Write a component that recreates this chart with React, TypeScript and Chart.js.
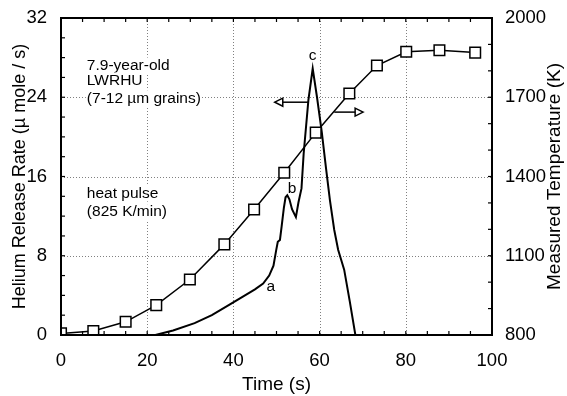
import React, { useEffect, useRef } from "react";
import { Chart, registerables } from "chart.js";

Chart.register(...registerables);

// ---- data ----
const tempTime = [0, 7.5, 15, 22.1, 29.9, 37.9, 44.8, 51.8, 59.1, 66.9, 73.3, 80.1, 87.8, 96.1];
const tempK = [806, 815, 850, 913, 1010, 1143, 1275, 1414, 1566, 1714, 1820, 1872, 1878, 1869];

const heTime = [
  21.9, 26, 31, 35, 39.2, 42.3, 45, 46.9, 48.3, 49.3, 49.9, 50.3, 50.8, 51.2, 51.7, 52.1,
  52.5, 53.0, 53.6, 54.5, 55.1, 55.8, 56.3, 57.4, 58.4, 59.4, 60.5, 61.5, 62.4, 63.4, 64.3,
  65.7, 67.0, 68.3,
];
const heRate = [
  0, 0.45, 1.2, 2.0, 3.1, 3.9, 4.6, 5.2, 6.0, 7.0, 8.5, 9.4, 9.6, 11.0, 12.8, 13.9,
  14.1, 13.7, 12.7, 11.9, 13.4, 14.8, 18.3, 23.7, 26.9, 24.0, 20.5, 16.8, 13.6, 10.6, 8.6,
  6.6, 3.4, 0,
];

const xTickValues = [0, 20, 40, 60, 80, 100];
const leftTickValues = [0, 8, 16, 24, 32];
const rightTickValues = [800, 1100, 1400, 1700, 2000];

const xTitle = "Time (s)";
const leftTitle = "Helium Release Rate (\u00b5 mole / s)";
const rightTitle = "Measured Temperature (K)";

const noteLines = ["7.9-year-old", "LWRHU", "(7-12 \u00b5m grains)", "heat pulse", "(825 K/min)"];
const noteX = [6.0, 6.0, 6.0, 6.0, 6.0];
const noteY = [27.2, 25.7, 23.9, 14.3, 12.4];

const peakNames = ["a", "b", "c"];
const peakX = [48.7, 53.6, 58.4];
const peakY = [4.9, 14.8, 28.2];

const arrowFromX = [57.5, 63.4];
const arrowToX = [49.6, 70.1];
const arrowY = [23.5, 22.5];

const FONT = "'Liberation Sans', Arial, Helvetica, sans-serif";

const decor = {
  id: "decor",
  beforeDatasetsDraw(chart: any) {
    const { ctx, chartArea: a, scales } = chart;
    ctx.save();
    ctx.strokeStyle = "#808080";
    ctx.lineWidth = 1;
    ctx.setLineDash([1, 2]);
    for (const v of xTickValues) {
      if (v === xTickValues[0] || v === xTickValues[xTickValues.length - 1]) continue;
      const px = Math.round(scales.x.getPixelForValue(v)) + 0.5;
      ctx.beginPath();
      ctx.moveTo(px, a.top);
      ctx.lineTo(px, a.bottom);
      ctx.stroke();
    }
    for (const v of leftTickValues) {
      if (v === leftTickValues[0] || v === leftTickValues[leftTickValues.length - 1]) continue;
      const py = Math.round(scales.y.getPixelForValue(v)) + 0.5;
      ctx.beginPath();
      ctx.moveTo(a.left, py);
      ctx.lineTo(a.right, py);
      ctx.stroke();
    }
    ctx.restore();
  },
  afterDatasetsDraw(chart: any) {
    const { ctx, chartArea: a, scales } = chart;
    const xs = scales.x;
    const ys = scales.y;
    const y2 = scales.y2;
    ctx.save();
    ctx.setLineDash([]);
    ctx.strokeStyle = "#000";
    ctx.fillStyle = "#000";

    // inward ticks
    ctx.lineWidth = 1.2;
    const tl = 4;
    for (let v = xs.min; v <= xs.max + 1e-9; v += 5) {
      const px = xs.getPixelForValue(v);
      ctx.beginPath();
      ctx.moveTo(px, a.bottom);
      ctx.lineTo(px, a.bottom - tl);
      ctx.moveTo(px, a.top);
      ctx.lineTo(px, a.top + tl);
      ctx.stroke();
    }
    for (let v = ys.min; v <= ys.max + 1e-9; v += 2) {
      const py = ys.getPixelForValue(v);
      ctx.beginPath();
      ctx.moveTo(a.left, py);
      ctx.lineTo(a.left + tl, py);
      ctx.stroke();
    }
    for (let v = y2.min; v <= y2.max + 1e-9; v += 100) {
      const py = y2.getPixelForValue(v);
      ctx.beginPath();
      ctx.moveTo(a.right, py);
      ctx.lineTo(a.right - tl, py);
      ctx.stroke();
    }

    // frame
    ctx.lineWidth = 2;
    ctx.strokeRect(a.left, a.top, a.right - a.left, a.bottom - a.top);

    // notes with white background
    ctx.font = `15.5px ${FONT}`;
    ctx.textBaseline = "middle";
    ctx.textAlign = "left";
    noteLines.forEach((t, i) => {
      const px = xs.getPixelForValue(noteX[i]);
      const py = ys.getPixelForValue(noteY[i]);
      const w = ctx.measureText(t).width;
      ctx.fillStyle = "#fff";
      ctx.fillRect(px - 1, py - 8, w + 2, 16);
      ctx.fillStyle = "#000";
      ctx.fillText(t, px, py);
    });

    // peak labels
    ctx.textAlign = "center";
    peakNames.forEach((t, i) => {
      ctx.fillText(t, xs.getPixelForValue(peakX[i]), ys.getPixelForValue(peakY[i]));
    });

    // arrows
    ctx.lineWidth = 1.5;
    arrowFromX.forEach((fx, i) => {
      const x0 = xs.getPixelForValue(fx);
      const x1 = xs.getPixelForValue(arrowToX[i]);
      const py = ys.getPixelForValue(arrowY[i]);
      const dir = Math.sign(x1 - x0);
      const hl = 8;
      const hw = 4;
      ctx.beginPath();
      ctx.moveTo(x0, py);
      ctx.lineTo(x1 - dir * hl, py);
      ctx.stroke();
      ctx.beginPath();
      ctx.moveTo(x1, py);
      ctx.lineTo(x1 - dir * hl, py - hw);
      ctx.lineTo(x1 - dir * hl, py + hw);
      ctx.closePath();
      ctx.fillStyle = "#fff";
      ctx.fill();
      ctx.stroke();
    });

    // right axis title (reads bottom to top)
    ctx.fillStyle = "#000";
    ctx.font = `19px ${FONT}`;
    ctx.textAlign = "center";
    ctx.textBaseline = "middle";
    ctx.translate(555, (a.top + a.bottom) / 2);
    ctx.rotate(-Math.PI / 2);
    ctx.fillText(rightTitle, 0, 0);
    ctx.restore();
  },
};

export default function App() {
  const ref = useRef<HTMLCanvasElement | null>(null);

  useEffect(() => {
    if (!ref.current) return;
    const chart = new Chart(ref.current, {
      type: "line",
      data: {
        datasets: [
          {
            label: "Temperature",
            data: tempTime.map((t, i) => ({ x: t, y: tempK[i] })),
            yAxisID: "y2",
            borderColor: "#000",
            borderWidth: 1.5,
            pointStyle: "rect",
            pointRadius: 7.5,
            pointBorderWidth: 1.5,
            pointBackgroundColor: "#fff",
            pointBorderColor: "#000",
            tension: 0,
            fill: false,
          },
          {
            label: "Helium",
            data: heTime.map((t, i) => ({ x: t, y: heRate[i] })),
            yAxisID: "y",
            borderColor: "#000",
            borderWidth: 2,
            pointRadius: 0,
            tension: 0,
            fill: false,
          },
        ],
      },
      options: {
        responsive: false,
        animation: false,
        layout: { padding: { top: 18, left: 0, right: 0, bottom: 0 } },
        plugins: { legend: { display: false }, tooltip: { enabled: false }, title: { display: false } },
        scales: {
          x: {
            type: "linear",
            min: 0,
            max: 100,
            grid: { display: false },
            border: { display: false },
            afterBuildTicks: (s: any) => {
              s.ticks = xTickValues.map((v) => ({ value: v }));
            },
            afterFit: (s: any) => {
              s.height = 61;
            },
            ticks: {
              color: "#000",
              padding: 7,
              maxRotation: 0,
              font: { family: FONT, size: 18.5 },
              callback: (v: any) => String(v),
            },
            title: {
              display: true,
              text: xTitle,
              color: "#000",
              font: { family: FONT, size: 19 },
              padding: { top: 0, bottom: 0 },
            },
          },
          y: {
            type: "linear",
            position: "left",
            min: 0,
            max: 32,
            grid: { display: false },
            border: { display: false },
            afterBuildTicks: (s: any) => {
              s.ticks = leftTickValues.map((v) => ({ value: v }));
            },
            afterFit: (s: any) => {
              s.width = 61;
            },
            ticks: { color: "#000", padding: 6, font: { family: FONT, size: 18.5 }, callback: (v: any) => String(v) },
            title: {
              display: true,
              text: leftTitle,
              color: "#000",
              font: { family: FONT, size: 18 },
              padding: { top: 9, bottom: 0 },
            },
          },
          y2: {
            type: "linear",
            position: "right",
            min: 800,
            max: 2000,
            grid: { display: false },
            border: { display: false },
            afterBuildTicks: (s: any) => {
              s.ticks = rightTickValues.map((v) => ({ value: v }));
            },
            afterFit: (s: any) => {
              s.width = 75;
            },
            ticks: { color: "#000", padding: 5, font: { family: FONT, size: 18.5 }, callback: (v: any) => String(v) },
          },
        },
      },
      plugins: [decor],
    });
    return () => chart.destroy();
  }, []);

  return (
    <div style={{ position: "absolute", left: 0, top: 0, width: 567, height: 396, background: "#fff" }}>
      <canvas ref={ref} width={567} height={396} />
    </div>
  );
}
